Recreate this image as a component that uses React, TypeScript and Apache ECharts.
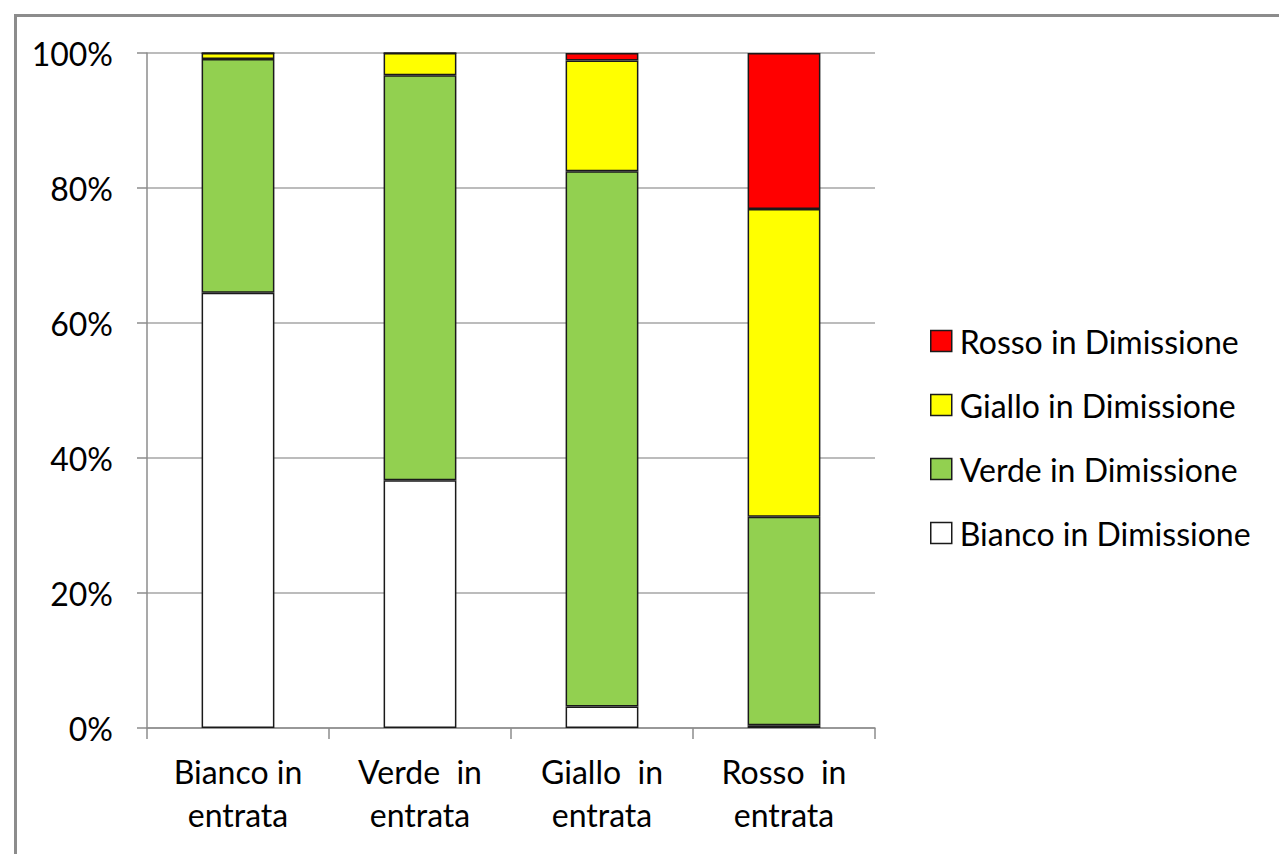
import React, { useEffect, useRef } from "react";
import * as echarts from "echarts";

// Admission triage colour (categories) vs. discharge colour (stacked shares, %)
const categories = [
  "Bianco in\nentrata",
  "Verde  in\nentrata",
  "Giallo  in\nentrata",
  "Rosso  in\nentrata",
];

const biancoDim = [64.5, 36.7, 3.2, 0.4];
const verdeDim = [34.6, 60.0, 79.3, 30.9];
const gialloDim = [0.9, 3.3, 16.4, 45.6];
const rossoDim = [0.0, 0.0, 1.1, 23.1];

const yTicks = [0, 20, 40, 60, 80, 100];

const FONT = "Lato";
const FS = 32;

export default function App() {
  const ref = useRef<HTMLDivElement>(null);

  useEffect(() => {
    if (!ref.current) return;
    const chart = echarts.init(ref.current, undefined, { renderer: "svg" });

    const barStyle = (color: string) => ({
      color,
      borderColor: "#1a1a1a",
      borderWidth: 1.5,
    });

    const series = [
      { name: "Bianco in Dimissione", data: biancoDim, color: "#FFFFFF" },
      { name: "Verde in Dimissione", data: verdeDim, color: "#92D050" },
      { name: "Giallo in Dimissione", data: gialloDim, color: "#FFFF00" },
      { name: "Rosso in Dimissione", data: rossoDim, color: "#FF0000" },
    ].map((s) => ({
      name: s.name,
      type: "bar" as const,
      stack: "tot",
      barWidth: "40%",
      data: s.data,
      itemStyle: barStyle(s.color),
    }));

    chart.setOption({
      animation: false,
      backgroundColor: "#ffffff",
      textStyle: { fontFamily: FONT },
      grid: { left: 147, right: 404, top: 53, bottom: 126 },
      legend: {
        orient: "vertical",
        left: 930,
        top: 325,
        padding: 0,
        itemWidth: 21,
        itemHeight: 21,
        itemGap: 32,
        icon: "rect",
        data: [
          "Rosso in Dimissione",
          "Giallo in Dimissione",
          "Verde in Dimissione",
          "Bianco in Dimissione",
        ],
        textStyle: {
          fontFamily: FONT,
          fontSize: FS,
          color: "#000",
          padding: [0, 0, 0, 3],
        },
        itemStyle: { borderColor: "#1a1a1a", borderWidth: 1.5 },
        selectedMode: false,
      },
      xAxis: {
        type: "category",
        data: categories,
        axisLine: { lineStyle: { color: "#8c8c8c", width: 1.5 } },
        axisTick: { show: true, length: 11, lineStyle: { color: "#8c8c8c", width: 1.5 } },
        axisLabel: {
          color: "#000",
          fontFamily: FONT,
          fontSize: FS,
          lineHeight: 43,
          margin: 22,
          interval: 0,
        },
      },
      yAxis: {
        type: "value",
        min: yTicks[0],
        max: yTicks[yTicks.length - 1],
        interval: 20,
        axisLine: { show: true, lineStyle: { color: "#8c8c8c", width: 1.5 } },
        axisTick: { show: true, length: 10, lineStyle: { color: "#8c8c8c", width: 1.5 } },
        splitLine: { lineStyle: { color: "#a6a6a6", width: 1.5 } },
        axisLabel: {
          color: "#000",
          fontFamily: FONT,
          fontSize: FS,
          margin: 34,
          formatter: "{value}%",
        },
      },
      graphic: [
        {
          type: "rect",
          left: 13,
          top: 13,
          shape: { x: 0, y: 0, width: 1400, height: 1000 },
          style: { fill: "none", stroke: "#8c8c8c", lineWidth: 3 },
          silent: true,
        },
      ],
      series,
    });

    return () => chart.dispose();
  }, []);

  return (
    <div
      ref={ref}
      style={{ position: "fixed", left: 0, top: 0, width: 1279, height: 854 }}
    />
  );
}
